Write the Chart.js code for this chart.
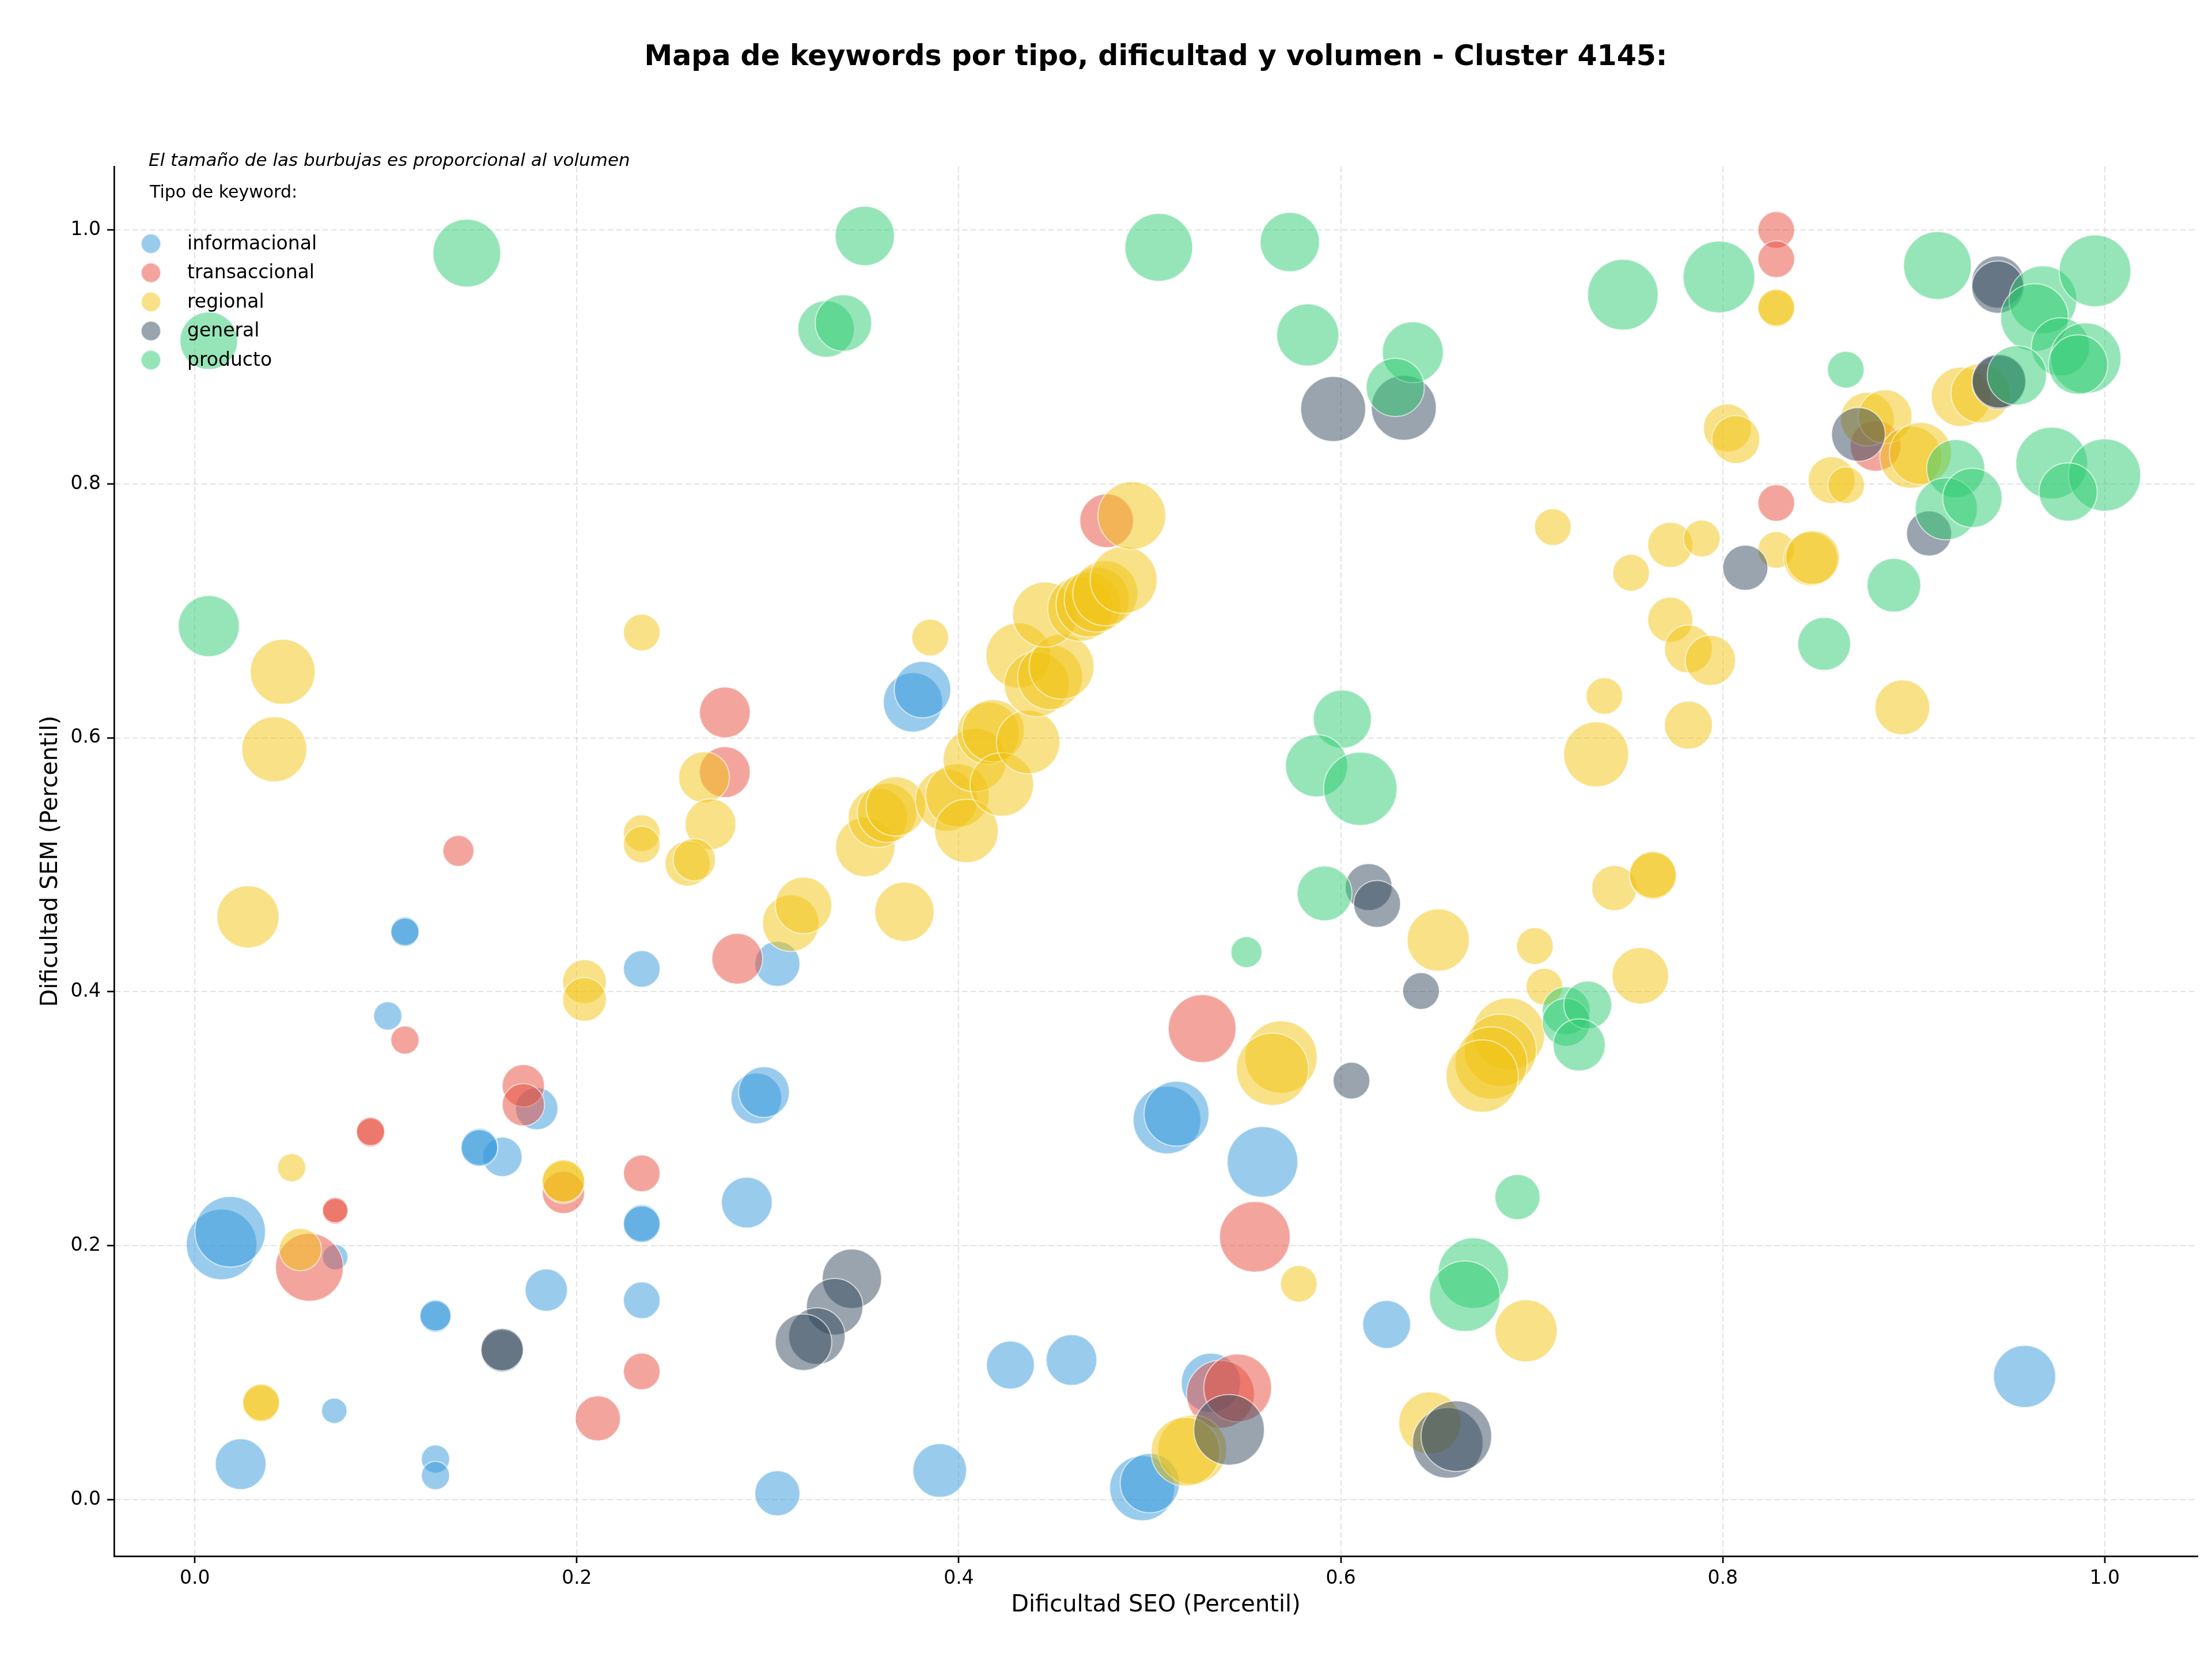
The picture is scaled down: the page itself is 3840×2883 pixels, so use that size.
<!DOCTYPE html>
<html>
<head>
<meta charset="utf-8">
<script src="https://cdn.jsdelivr.net/npm/chart.js@4.4.1/dist/chart.umd.min.js"></script>
<style>
  html, body { margin: 0; padding: 0; background: #fff; }
  #wrap { width: 3840px; height: 2883px; }
</style>
</head>
<body>
<div id="wrap"><canvas id="chart" width="3840" height="2883"></canvas></div>
<script>
// --- DATOS ---
const tipos = ['informacional', 'transaccional', 'regional', 'general', 'producto'];
const colores = ['#3498db', '#e74c3c', '#f1c40f', '#34495e', '#2ecc71'];
const ticksX = [0, 0.2, 0.4, 0.6, 0.8, 1.0];
const ticksY = [0, 0.2, 0.4, 0.6, 0.8, 1.0];

// informacional
const infoSeo = [0.014, 0.0185, 0.024, 0.073, 0.0735, 0.110, 0.110, 0.101, 0.161, 0.149, 0.149, 0.179, 0.126, 0.126, 0.126, 0.126, 0.184, 0.234, 0.234, 0.234, 0.234, 0.305, 0.294, 0.298, 0.289, 0.305, 0.390, 0.427, 0.459, 0.496, 0.500, 0.509, 0.514, 0.559, 0.624, 0.532, 0.958, 0.376, 0.381];
const infoSem = [0.201, 0.211, 0.028, 0.070, 0.191, 0.448, 0.447, 0.381, 0.270, 0.278, 0.277, 0.308, 0.144, 0.145, 0.032, 0.019, 0.165, 0.418, 0.218, 0.217, 0.157, 0.422, 0.316, 0.321, 0.234, 0.005, 0.023, 0.106, 0.110, 0.009, 0.013, 0.299, 0.304, 0.266, 0.138, 0.092, 0.097, 0.628, 0.638];
const infoVol = [6250, 6250, 3240, 810, 810, 1000, 1000, 1000, 1960, 1690, 1690, 2250, 1210, 1210, 1000, 1000, 2250, 1690, 1690, 1690, 1690, 2560, 3240, 3240, 3240, 2560, 3610, 2890, 3240, 5290, 4410, 5760, 5290, 6250, 2890, 4410, 4840, 4410, 4000];

// transaccional
const transSeo = [0.138, 0.110, 0.092, 0.092, 0.0735, 0.0735, 0.060, 0.172, 0.172, 0.193, 0.234, 0.234, 0.211, 0.284, 0.2775, 0.2775, 0.4774, 0.5274, 0.555, 0.537, 0.546, 0.828, 0.828, 0.828, 0.880];
const transSem = [0.511, 0.362, 0.289, 0.290, 0.227, 0.228, 0.183, 0.326, 0.311, 0.242, 0.257, 0.101, 0.064, 0.426, 0.620, 0.573, 0.771, 0.371, 0.207, 0.083, 0.088, 1.000, 0.977, 0.785, 0.830];
const transVol = [1210, 1000, 1000, 1000, 810, 810, 5760, 2250, 2250, 2250, 1690, 1690, 2560, 3240, 3240, 3240, 3610, 5760, 6250, 5760, 5760, 1690, 1690, 1690, 3240];

// regional
const regSeo = [0.046, 0.0416, 0.0278, 0.0507, 0.0552, 0.0347, 0.0347, 0.204, 0.204, 0.193, 0.193, 0.234, 0.234, 0.234, 0.2666, 0.270, 0.258, 0.2615, 0.312, 0.3187, 0.3715, 0.385, 0.351, 0.3576, 0.3624, 0.367,
  0.3935, 0.3993, 0.404, 0.4084, 0.4154, 0.418, 0.4225, 0.4363, 0.4312, 0.4408, 0.4478, 0.4538, 0.4451, 0.4635, 0.4679, 0.4722, 0.4767, 0.4863, 0.4906,
  0.711, 0.752, 0.7725, 0.7725, 0.738, 0.7337, 0.782, 0.828, 0.828, 0.8024, 0.8068, 0.789, 0.782, 0.7935, 0.828, 0.846, 0.847, 0.857, 0.8646, 0.8757, 0.885, 0.8985, 0.9035, 0.9247, 0.935, 0.894,
  0.7432, 0.7634, 0.7634, 0.7016, 0.7066, 0.7568, 0.651, 0.6879, 0.6835, 0.6787, 0.674, 0.5687, 0.5642, 0.578, 0.697, 0.6466, 0.5222, 0.5187];
const regSem = [0.652, 0.591, 0.459, 0.2615, 0.197, 0.0756, 0.0766, 0.408, 0.394, 0.250, 0.251, 0.683, 0.525, 0.516, 0.569, 0.532, 0.501, 0.504, 0.454, 0.468, 0.463, 0.679, 0.514, 0.537, 0.541, 0.546,
  0.551, 0.5546, 0.5267, 0.5826, 0.6036, 0.6056, 0.5633, 0.5967, 0.6649, 0.6422, 0.6478, 0.6561, 0.6971, 0.7017, 0.7051, 0.7089, 0.7139, 0.7244, 0.7751,
  0.766, 0.730, 0.752, 0.693, 0.633, 0.587, 0.610, 0.938, 0.939, 0.844, 0.835, 0.757, 0.670, 0.661, 0.748, 0.741, 0.742, 0.803, 0.799, 0.851, 0.853, 0.821, 0.824, 0.8686, 0.8714, 0.624,
  0.4817, 0.4911, 0.4921, 0.436, 0.404, 0.4126, 0.4407, 0.3668, 0.354, 0.344, 0.3336, 0.3486, 0.339, 0.170, 0.133, 0.0604, 0.0394, 0.0378];
const regVol = [5290, 5290, 4840, 1000, 2250, 1690, 1690, 2400, 2400, 2250, 2250, 1690, 1690, 1690, 3240, 3240, 2560, 2250, 4000, 4000, 4410, 1690, 4410, 4410, 4410, 4410,
  4840, 5060, 5060, 5060, 4840, 4840, 5060, 5060, 5290, 5290, 5290, 5290, 5290, 5290, 5290, 5290, 5290, 5620, 5760,
  1690, 1690, 2560, 2560, 1690, 5290, 2890, 1690, 1690, 2890, 2890, 1690, 2890, 3170, 1690, 3610, 3610, 2760, 1690, 3610, 3610, 4840, 4840, 4410, 4410, 3760,
  2560, 2760, 2760, 1690, 1690, 4000, 4840, 6550, 6550, 6550, 6550, 6550, 6550, 1690, 4840, 4840, 5950, 5950];

// general
const genSeo = [0.1609, 0.1609, 0.344, 0.335, 0.3257, 0.3187, 0.5415, 0.656, 0.6605, 0.6056, 0.642, 0.6146, 0.619, 0.596, 0.633, 0.944, 0.944, 0.9446, 0.9446, 0.871, 0.908, 0.8118];
const genSem = [0.1172, 0.1182, 0.174, 0.152, 0.1288, 0.124, 0.055, 0.0447, 0.050, 0.330, 0.4006, 0.4825, 0.4692, 0.859, 0.860, 0.959, 0.955, 0.880, 0.881, 0.839, 0.761, 0.734];
const genVol = [2250, 2250, 4410, 4000, 4000, 4000, 6250, 6250, 6250, 1690, 1690, 2760, 2760, 5290, 5290, 3420, 3420, 3610, 3610, 3610, 2560, 2560];

// producto
const prodSeo = [0.1424, 0.0073, 0.0073, 0.3508, 0.3305, 0.3396, 0.5047, 0.5733, 0.5827, 0.6377, 0.6285, 0.7477, 0.6008, 0.5873, 0.6102, 0.5915, 0.5506, 0.718, 0.718, 0.7293, 0.7248, 0.6925, 0.6694, 0.6649,
  0.798, 0.8644, 0.9124, 0.9676, 0.9632, 0.9949, 0.9768, 0.990, 0.986, 0.954, 0.922, 0.917, 0.9307, 0.9722, 0.9999, 0.9808, 0.8896, 0.8531];
const prodSem = [0.9818, 0.9128, 0.688, 0.9953, 0.922, 0.9268, 0.9863, 0.9905, 0.9173, 0.9037, 0.876, 0.949, 0.6148, 0.578, 0.5599, 0.4775, 0.4312, 0.385, 0.376, 0.3896, 0.3581, 0.2383, 0.1784, 0.1602,
  0.963, 0.890, 0.972, 0.945, 0.931, 0.9678, 0.908, 0.899, 0.894, 0.8855, 0.812, 0.7804, 0.789, 0.8164, 0.807, 0.7936, 0.7202, 0.674];
const prodVol = [5760, 4160, 4670, 4410, 4000, 4000, 5760, 4410, 4840, 4670, 4240, 6250, 4240, 4840, 6760, 3760, 1210, 2890, 2890, 2890, 3420, 2560, 6250, 6250,
  6450, 1690, 5760, 5760, 5760, 6450, 4240, 6250, 4410, 4410, 4240, 4840, 4410, 6450, 6550, 4240, 3610, 3500];

const series = [
  [infoSeo, infoSem, infoVol],
  [transSeo, transSem, transVol],
  [regSeo, regSem, regVol],
  [genSeo, genSem, genVol],
  [prodSeo, prodSem, prodVol]
];

// --- AYUDANTES ---
const FONT = '"DejaVu Sans", "Liberation Sans", sans-serif';
const radio = (vol) => Math.sqrt(vol / 10) * 2.449;   // área ∝ volumen
const rgba = (hex, a) => {
  const n = parseInt(hex.slice(1), 16);
  return `rgba(${(n >> 16) & 255}, ${(n >> 8) & 255}, ${n & 255}, ${a})`;
};

const datasets = series.map(([xs, ys, vols], i) => ({
  label: tipos[i],
  data: xs.map((x, j) => ({ x: x, y: ys[j], r: radio(vols[j]) })),
  backgroundColor: rgba(colores[i], 0.5),
  borderColor: 'rgba(255, 255, 255, 0.6)',
  borderWidth: 2,
  order: tipos.length - 1 - i   // producto encima
}));

// título, nota y leyenda dibujados dentro del área
const decor = {
  id: 'decor',
  afterDraw(chart) {
    const ctx = chart.ctx;
    ctx.save();
    ctx.fillStyle = '#000';
    ctx.textBaseline = 'middle';

    ctx.textAlign = 'center';
    ctx.font = `bold 49px ${FONT}`;
    ctx.fillText('Mapa de keywords por tipo, dificultad y volumen - Cluster 4145:', (chart.chartArea.left + chart.chartArea.right) / 2, 100);

    ctx.textAlign = 'left';
    ctx.font = `italic 31px ${FONT}`;
    ctx.fillText('El tamaño de las burbujas es proporcional al volumen', 258, 280);
    ctx.font = `30px ${FONT}`;
    ctx.fillText('Tipo de keyword:', 260, 335);

    tipos.forEach((t, i) => {
      const y = 423 + i * 50.5;
      ctx.beginPath();
      ctx.arc(262, y, 17, 0, Math.PI * 2);
      ctx.fillStyle = rgba(colores[i], 0.5);
      ctx.fill();
      ctx.strokeStyle = 'rgba(255, 255, 255, 0.6)';
      ctx.lineWidth = 2;
      ctx.stroke();
      ctx.fillStyle = '#000';
      ctx.font = `33px ${FONT}`;
      ctx.fillText(t, 325, y + 1);
    });
    ctx.restore();
  }
};

const axisOpts = (ticksArr, isX) => ({
  type: 'linear',
  min: isX ? -0.0423 : -0.0445,
  max: isX ? 1.0486 : 1.05,
  afterBuildTicks: (axis) => { axis.ticks = ticksArr.map(v => ({ value: v })); },
  afterFit: (axis) => { if (isX) axis.height = 182; else axis.width = 198; },
  ticks: {
    color: '#000',
    font: { family: FONT, size: 33 },
    padding: isX ? 8 : 11,
    callback: (v) => Number(v).toFixed(1)
  },
  grid: {
    color: 'rgba(190, 190, 190, 0.45)',
    lineWidth: 2,
    tickColor: '#000',
    tickLength: 12,
    tickWidth: 2.7
  },
  border: { display: true, color: '#000', width: 2.7, dash: [10, 5] },
  title: {
    display: true,
    text: isX ? 'Dificultad SEO (Percentil)' : 'Dificultad SEM (Percentil)',
    color: '#000',
    font: { family: FONT, size: 40 },
    padding: isX ? { top: 0, bottom: 72 } : { top: 65, bottom: 0 }
  }
});

new Chart(document.getElementById('chart'), {
  type: 'bubble',
  data: { datasets },
  options: {
    responsive: false,
    devicePixelRatio: 1,
    animation: false,
    events: [],
    layout: { autoPadding: false, padding: { top: 289, right: 25, left: 0, bottom: 0 } },
    plugins: {
      legend: { display: false },
      title: { display: false },
      tooltip: { enabled: false }
    },
    scales: {
      x: axisOpts(ticksX, true),
      y: axisOpts(ticksY, false)
    }
  },
  plugins: [decor]
});
</script>
</body>
</html>
